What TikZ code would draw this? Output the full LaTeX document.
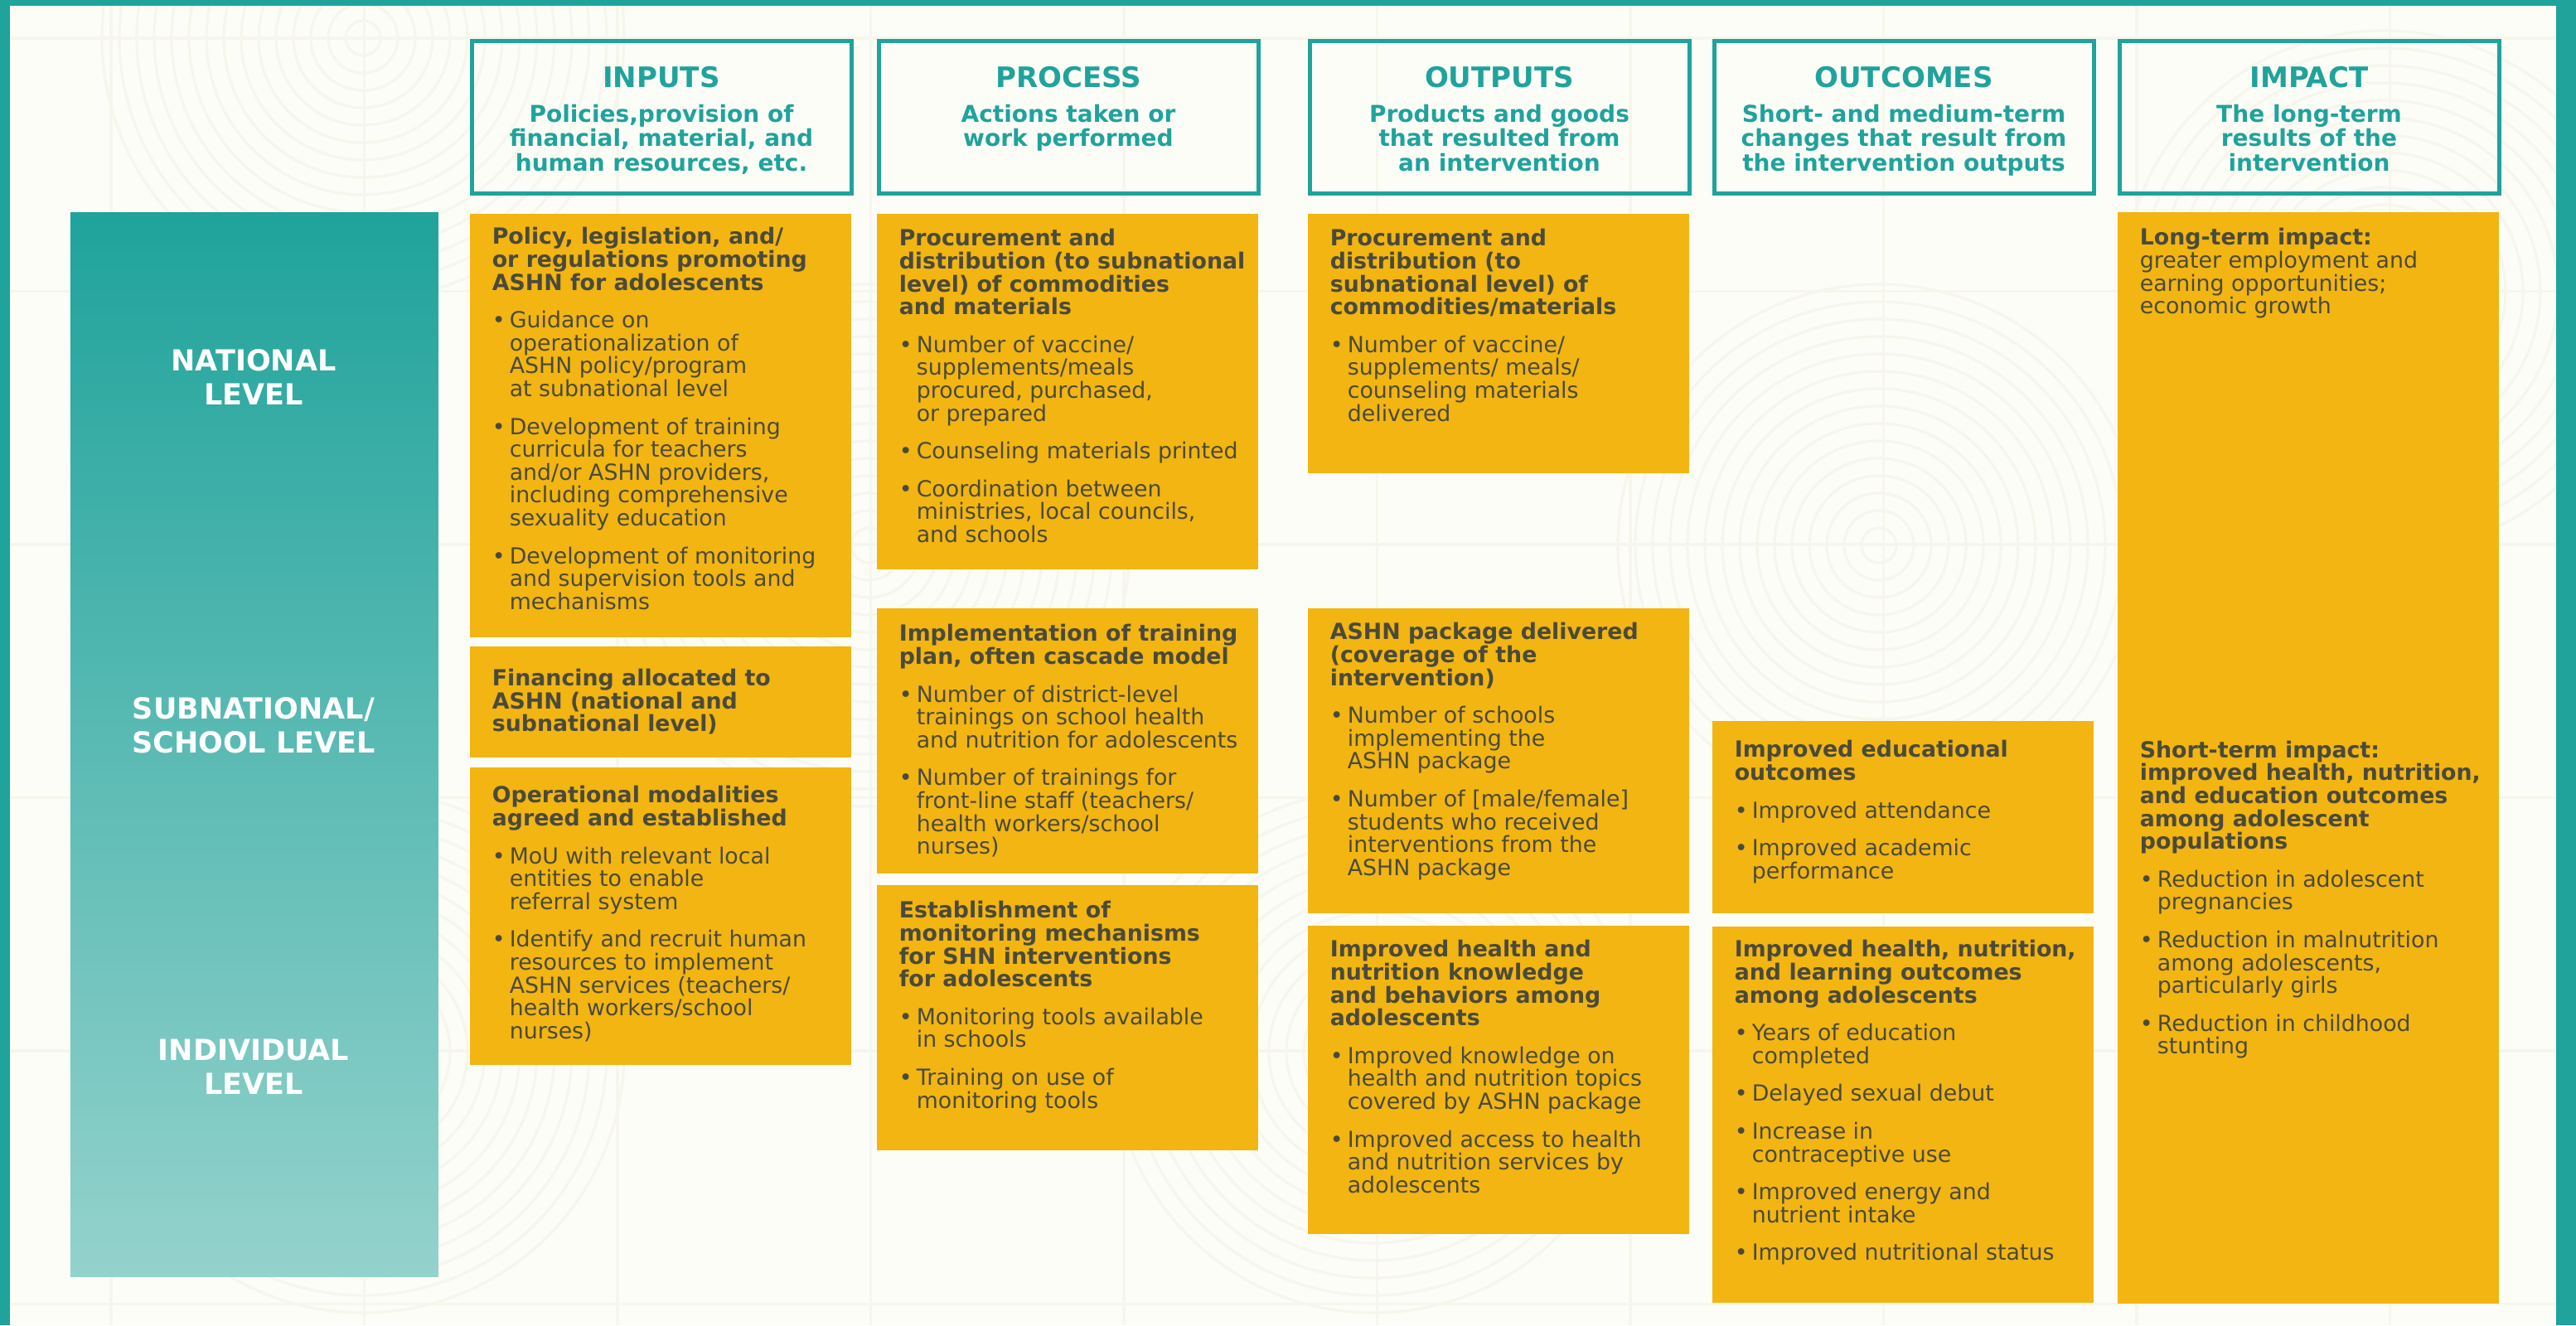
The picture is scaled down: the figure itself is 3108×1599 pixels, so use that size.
\documentclass[tikz,border=0pt]{standalone}
\usepackage{fontspec}
\setmainfont{DejaVu Sans}
\definecolor{tuerkis}{HTML}{1FA39B}
\definecolor{tuerkishell}{HTML}{94D2CC}
\definecolor{gelb}{HTML}{F2B511}
\definecolor{schrift}{HTML}{4A4A3C}
\definecolor{grund}{HTML}{FDFDF8}
\definecolor{muster}{HTML}{F6F6EC}
\newdimen\pxu \pxu=0.25pt
\newcommand\inhalt[4][t]{\parbox[c][#2\pxu][#1]{460\pxu}{\fontsize{6.7pt}{6.9pt}\selectfont\parindent=0pt\relax\rightskip=0pt plus 1fil\relax\leftskip=27\pxu\relax\parskip=18\pxu\relax\hyphenpenalty=10000\relax\exhyphenpenalty=10000\relax\rule{0pt}{#3\pxu}#4}}
\newcommand\kopf[1]{{\bfseries #1\par}}
\newcommand\itm[1]{\hangindent=21\pxu\relax\hangafter=1\relax\makebox[21\pxu][l]{•}#1\par}
\newcommand\spalte[2]{\parbox[c][184\pxu][t]{458\pxu}{\centering\bfseries\fontsize{8.5pt}{10pt}\selectfont\rule{0pt}{56.5\pxu}#1\par\vspace{12\pxu}\fontsize{7pt}{7.4pt}\selectfont #2\par}}

\begin{document}
\begin{tikzpicture}[x=0.25pt,y=-0.25pt,
	kasten/.style={fill=gelb, text=schrift, anchor=north west, inner sep=0pt},
	kopfbox/.style={draw=tuerkis, line width=1.25pt, text=tuerkis, anchor=north west, inner sep=0pt},
	ebenentext/.style={text=white, align=center, font=\bfseries\fontsize{8.75pt}{10.25pt}\selectfont}]
	% Hintergrund
	\useasboundingbox (0,0) rectangle (3108,1599);
	\fill[grund] (0,0) rectangle (3108,1599);
	\begin{scope}[muster, line width=0.8pt]
		\clip (12,7) rectangle (3084,1599);
		\foreach \i in {0,...,9} \draw (134+305.5*\i,0) -- (134+305.5*\i,1599);
		\foreach \j in {0,...,5} \draw (0,46+305.5*\j) -- (3108,46+305.5*\j);
		\foreach \mx/\my in {438/46, 438/1269, 2267/658, 1657/1269, 2876/352, 1048/658}
			\foreach \r in {21,42,...,315} \draw (\mx,\my) circle[radius=\r];
	\end{scope}
	% Rahmen
	\fill[tuerkis] (0,0) rectangle (3108,7);
	\fill[tuerkis] (0,0) rectangle (12,1599);
	\fill[tuerkis] (3084,0) rectangle (3108,1599);
	% Kopfzeile
	\node (inp) at (566.5,46.5) [kopfbox] {\spalte{INPUTS}{Policies,provision of\\financial, material, and\\human resources, etc.}};
	\node (proc) at (1057.5,46.5) [kopfbox] {\spalte{PROCESS}{Actions taken or\\work performed}};
	\node (outp) at (1577.5,46.5) [kopfbox] {\spalte{OUTPUTS}{Products and goods\\that resulted from\\an intervention}};
	\node (outc) at (2065.5,46.5) [kopfbox] {\spalte{OUTCOMES}{Short- and medium-term\\changes that result from\\the intervention outputs}};
	\node (imp) at (2554.5,46.5) [kopfbox] {\spalte{IMPACT}{The long-term\\results of the\\intervention}};
	% Ebenen
	\node (ebene) at (84,256) [anchor=north west, inner sep=0pt, minimum width=111pt, minimum height=321pt, top color=tuerkis, bottom color=tuerkishell] {};
	\node (nat) at (306,455) [ebenentext] {NATIONAL\\LEVEL};
	\node (sub) at (306,875) [ebenentext] {SUBNATIONAL/\\SCHOOL LEVEL};
	\node (ind) at (306,1287) [ebenentext] {INDIVIDUAL\\LEVEL};
	% Felder
	\node (in1) at (566,257) [kasten] {\inhalt{511}{37}{\kopf{Policy, legislation, and/\\or regulations promoting\\ASHN for adolescents}%
		\itm{Guidance on\\operationalization of\\ASHN policy/program\\at subnational level}%
		\itm{Development of training\\curricula for teachers\\and/or ASHN providers,\\including comprehensive\\sexuality education}%
		\itm{Development of monitoring\\and supervision tools and\\mechanisms}}};
	\node (in2) at (566,779) [kasten] {\inhalt[c]{134}{0}{\kopf{Financing allocated to\\ASHN (national and\\subnational level)}}};
	\node (in3) at (566,925) [kasten] {\inhalt{359}{43}{\kopf{Operational modalities\\agreed and established}%
		\itm{MoU with relevant local\\entities to enable\\referral system}%
		\itm{Identify and recruit human\\resources to implement\\ASHN services (teachers/\\health workers/school\\nurses)}}};
	\node (pr1) at (1057,257) [kasten] {\inhalt{429}{39}{\kopf{Procurement and\\distribution (to subnational\\level) of commodities\\and materials}%
		\itm{Number of vaccine/\\supplements/meals\\procured, purchased,\\or prepared}%
		\itm{Counseling materials printed}%
		\itm{Coordination between\\ministries, local councils,\\and schools}}};
	\node (pr2) at (1057,733) [kasten] {\inhalt{320}{40}{\kopf{Implementation of training\\plan, often cascade model}%
		\itm{Number of district-level\\trainings on school health\\and nutrition for adolescents}%
		\itm{Number of trainings for\\front-line staff (teachers/\\health workers/school\\nurses)}}};
	\node (pr3) at (1057,1067) [kasten] {\inhalt{320}{40}{\kopf{Establishment of\\monitoring mechanisms\\for SHN interventions\\for adolescents}%
		\itm{Monitoring tools available\\in schools}%
		\itm{Training on use of\\monitoring tools}}};
	\node (op1) at (1577,257) [kasten] {\inhalt{313}{39}{\kopf{Procurement and\\distribution (to\\subnational level) of\\commodities/materials}%
		\itm{Number of vaccine/\\supplements/ meals/\\counseling materials\\delivered}}};
	\node (op2) at (1577,733) [kasten] {\inhalt{368}{38}{\kopf{ASHN package delivered\\(coverage of the\\intervention)}%
		\itm{Number of schools\\implementing the\\ASHN package}%
		\itm{Number of [male/female]\\students who received\\interventions from the\\ASHN package}}};
	\node (op3) at (1577,1116) [kasten] {\inhalt{372}{38}{\kopf{Improved health and\\nutrition knowledge\\and behaviors among\\adolescents}%
		\itm{Improved knowledge on\\health and nutrition topics\\covered by ASHN package}%
		\itm{Improved access to health\\and nutrition services by\\adolescents}}};
	\node (oc1) at (2065,869) [kasten] {\inhalt{232}{44}{\kopf{Improved educational\\outcomes}%
		\itm{Improved attendance}%
		\itm{Improved academic\\performance}}};
	\node (oc2) at (2065,1117) [kasten] {\inhalt{454}{37}{\kopf{Improved health, nutrition,\\and learning outcomes\\among adolescents}%
		\itm{Years of education\\completed}%
		\itm{Delayed sexual debut}%
		\itm{Increase in\\contraceptive use}%
		\itm{Improved energy and\\nutrient intake}%
		\itm{Improved nutritional status}}};
	\node (im1) at (2554,255) [kasten] {\inhalt{1317}{40}{{\bfseries Long-term impact:}\\greater employment and\\earning opportunities;\\economic growth\par
		\vspace{490\pxu}%
		\kopf{Short-term impact:\\improved health, nutrition,\\and education outcomes\\among adolescent\\populations}%
		\itm{Reduction in adolescent\\pregnancies}%
		\itm{Reduction in malnutrition\\among adolescents,\\particularly girls}%
		\itm{Reduction in childhood\\stunting}}};
\end{tikzpicture}
\end{document}
